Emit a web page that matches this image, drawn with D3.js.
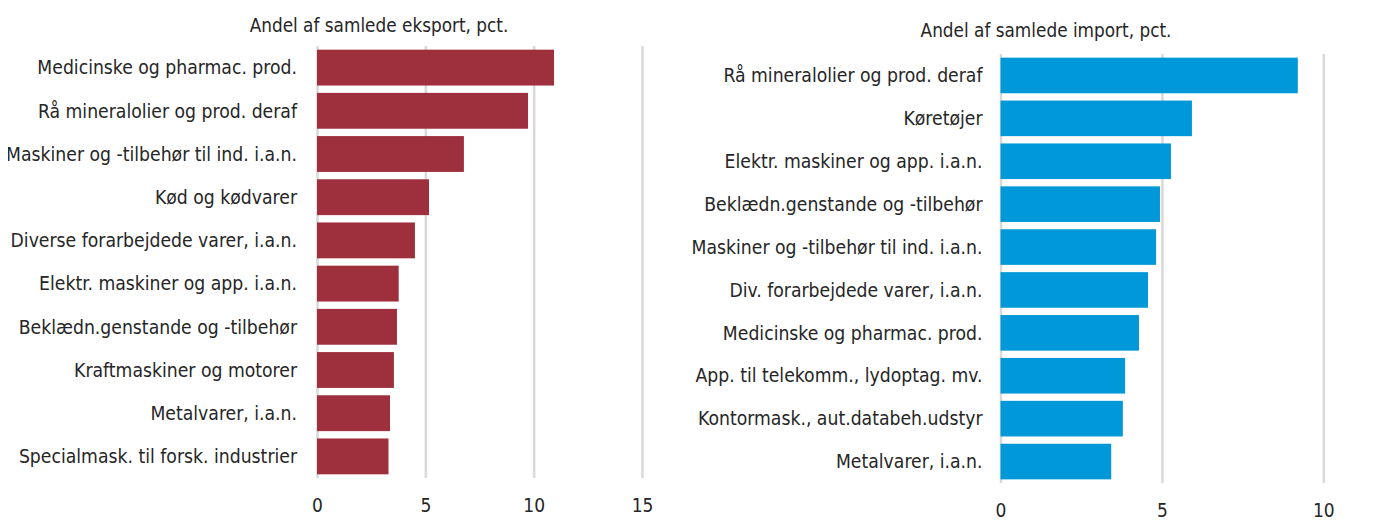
<!DOCTYPE html>
<html>
<head>
<meta charset="utf-8">
<script src="https://cdn.jsdelivr.net/npm/d3@7"></script>
<style>
  body { margin: 0; background: #fff; }
  svg text { font-family: "Liberation Sans Narrow", "DejaVu Sans Condensed", "Roboto Condensed", sans-serif; fill: #262626; }
  .grid line { stroke: #d9d9d9; stroke-width: 2.5; }
  .grid path { display: none; }
  .ticks path, .ticks line { display: none; }
</style>
</head>
<body>
<script>
// export panel
var exportCategories = ["Medicinske og pharmac. prod.", "Rå mineralolier og prod. deraf",
  "Maskiner og -tilbehør til ind. i.a.n.", "Kød og kødvarer", "Diverse forarbejdede varer, i.a.n.",
  "Elektr. maskiner og app. i.a.n.", "Beklædn.genstande og -tilbehør", "Kraftmaskiner og motorer",
  "Metalvarer, i.a.n.", "Specialmask. til forsk. industrier"];
var exportValues = [10.94, 9.74, 6.78, 5.17, 4.52, 3.77, 3.69, 3.55, 3.37, 3.30];
var exportTicks = [0, 5, 10, 15];

// import panel
var importCategories = ["Rå mineralolier og prod. deraf", "Køretøjer", "Elektr. maskiner og app. i.a.n.",
  "Beklædn.genstande og -tilbehør", "Maskiner og -tilbehør til ind. i.a.n.", "Div. forarbejdede varer, i.a.n.",
  "Medicinske og pharmac. prod.", "App. til telekomm., lydoptag. mv.", "Kontormask., aut.databeh.udstyr",
  "Metalvarer, i.a.n."];
var importValues = [9.21, 5.93, 5.28, 4.94, 4.82, 4.57, 4.29, 3.86, 3.79, 3.43];
var importTicks = [0, 5, 10];

var width = 1374, height = 520;

var svg = d3.select("body").append("svg")
  .attr("width", width)
  .attr("height", height);

// the reference cuts the longest export label at its left edge
svg.append("clipPath").attr("id", "clipLeft")
  .append("rect").attr("x", 8).attr("y", 0).attr("width", 672).attr("height", height);

function drawPanel(opts) {
  var g = svg.append("g");
  if (opts.clip) g.attr("clip-path", "url(#" + opts.clip + ")");

  var x = d3.scaleLinear().domain(opts.domain).range(opts.xRange);
  var y = d3.scaleBand().domain(opts.categories).range(opts.yRange)
            .paddingInner(0.17).paddingOuter(0.085);

  // gridlines
  g.append("g")
   .attr("class", "grid")
   .attr("transform", "translate(0," + opts.yRange[1] + ")")
   .call(d3.axisBottom(x).tickValues(opts.ticks).tickSize(-(opts.yRange[1] - opts.yRange[0])).tickFormat(""));

  // bars
  g.selectAll(".bar")
   .data(opts.values)
   .enter()
   .append("rect")
   .attr("class", "bar")
   .attr("x", x(0))
   .attr("y", function(d, i) { return y(opts.categories[i]); })
   .attr("width", function(d) { return x(d) - x(0); })
   .attr("height", y.bandwidth())
   .attr("fill", opts.color);

  // category labels
  g.selectAll(".cat")
   .data(opts.categories)
   .enter()
   .append("text")
   .attr("class", "cat")
   .attr("x", x(0) - opts.labelGap)
   .attr("y", function(d) { return y(d) + y.bandwidth() / 2; })
   .attr("dy", "0.35em")
   .style("text-anchor", "end")
   .style("font-size", "19.2px")
   .text(function(d) { return d; });

  // tick labels
  var ax = g.append("g")
   .attr("class", "ticks")
   .attr("transform", "translate(0," + (opts.yRange[1] + opts.tickGap) + ")")
   .call(d3.axisBottom(x).tickValues(opts.ticks).tickSize(0).tickPadding(0));
  ax.selectAll("text")
    .attr("y", 0)
    .attr("dy", "0.35em")
    .style("font-size", "19px")
    .attr("fill", "#262626");

  // title
  g.append("text")
   .attr("x", opts.titleX)
   .attr("y", opts.titleY)
   .attr("dy", "0.35em")
   .style("text-anchor", "middle")
   .style("font-size", "18.8px")
   .text(opts.title);
}

drawPanel({
  categories: exportCategories, values: exportValues, ticks: exportTicks,
  domain: [0, 15], xRange: [317, 642], yRange: [46, 478],
  color: "#9e2f3c", labelGap: 20, tickGap: 27,
  title: "Andel af samlede eksport, pct.", titleX: 379, titleY: 25, clip: "clipLeft"
});

drawPanel({
  categories: importCategories, values: importValues, ticks: importTicks,
  domain: [0, 10], xRange: [1000.5, 1323.3], yRange: [54, 483],
  color: "#0098d8", labelGap: 18, tickGap: 27,
  title: "Andel af samlede import, pct.", titleX: 1046, titleY: 30
});
</script>
</body>
</html>
